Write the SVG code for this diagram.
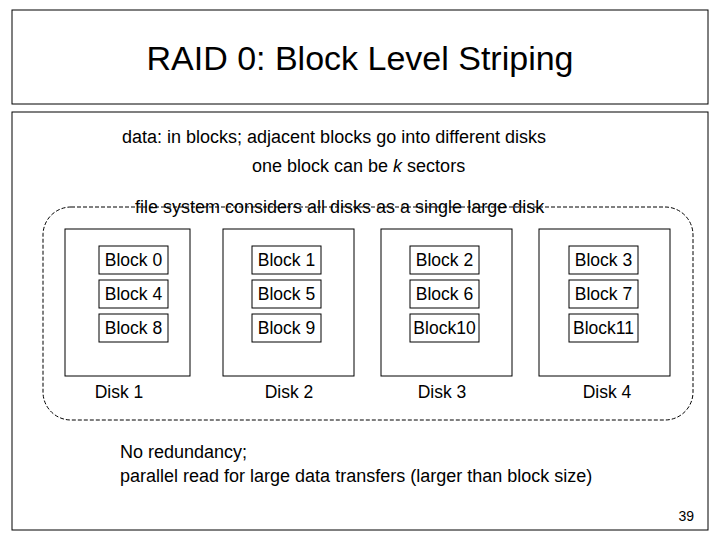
<svg xmlns="http://www.w3.org/2000/svg" width="720" height="540" viewBox="0 0 720 540">
<style>
text{font-family:"Liberation Sans",Arial,sans-serif;fill:#000}
.box{fill:#fff;stroke:#000;stroke-width:1}
.b{font-size:17.5px;text-anchor:middle}
.t{font-size:18px}
</style>
<rect width="720" height="540" fill="#fff"/>
<rect class="box" x="12" y="10" width="696" height="94"/>
<text x="360" y="70" font-size="34" text-anchor="middle">RAID 0: Block Level Striping</text>
<rect class="box" x="12" y="112" width="696" height="418"/>
<text class="t" x="122" y="143">data: in blocks; adjacent  blocks go into different disks</text>
<text class="t" x="252" y="172">one block can be <tspan font-style="italic">k</tspan> sectors</text>
<g id="connectors">
<rect x="43" y="207" width="650" height="213" rx="28" fill="none" stroke="#000" stroke-dasharray="4,2"/>
</g>
<text class="t" x="135" y="213">file system considers all disks as a single large disk</text>
<g id="disk1"><rect class="box" x="65" y="229" width="125" height="147"/>
<rect class="box" x="99" y="246" width="69" height="28"/><text class="b" x="133.5" y="266">Block 0</text>
<rect class="box" x="99" y="280" width="69" height="28"/><text class="b" x="133.5" y="300">Block 4</text>
<rect class="box" x="99" y="314" width="69" height="28"/><text class="b" x="133.5" y="334">Block 8</text>
<text class="b" x="119" y="398">Disk 1</text></g>
<g id="disk2"><rect class="box" x="223" y="229" width="131" height="147"/>
<rect class="box" x="252" y="246" width="69" height="28"/><text class="b" x="286.5" y="266">Block 1</text>
<rect class="box" x="252" y="280" width="69" height="28"/><text class="b" x="286.5" y="300">Block 5</text>
<rect class="box" x="252" y="314" width="69" height="28"/><text class="b" x="286.5" y="334">Block 9</text>
<text class="b" x="289" y="398">Disk 2</text></g>
<g id="disk3"><rect class="box" x="381" y="229" width="131" height="147"/>
<rect class="box" x="410" y="246" width="69" height="28"/><text class="b" x="444.5" y="266">Block 2</text>
<rect class="box" x="410" y="280" width="69" height="28"/><text class="b" x="444.5" y="300">Block 6</text>
<rect class="box" x="410" y="314" width="69" height="28"/><text class="b" x="444.5" y="334">Block10</text>
<text class="b" x="442" y="398">Disk 3</text></g>
<g id="disk4"><rect class="box" x="539" y="229" width="131" height="147"/>
<rect class="box" x="569" y="246" width="69" height="28"/><text class="b" x="603.5" y="266">Block 3</text>
<rect class="box" x="569" y="280" width="69" height="28"/><text class="b" x="603.5" y="300">Block 7</text>
<rect class="box" x="569" y="314" width="69" height="28"/><text class="b" x="603.5" y="334">Block11</text>
<text class="b" x="607" y="398">Disk 4</text></g>
<text class="t" x="120" y="458">No redundancy;</text>
<text class="t" x="120" y="482">parallel read for large data transfers (larger than block size)</text>
<text x="694" y="521" font-size="14" text-anchor="end">39</text>
</svg>
